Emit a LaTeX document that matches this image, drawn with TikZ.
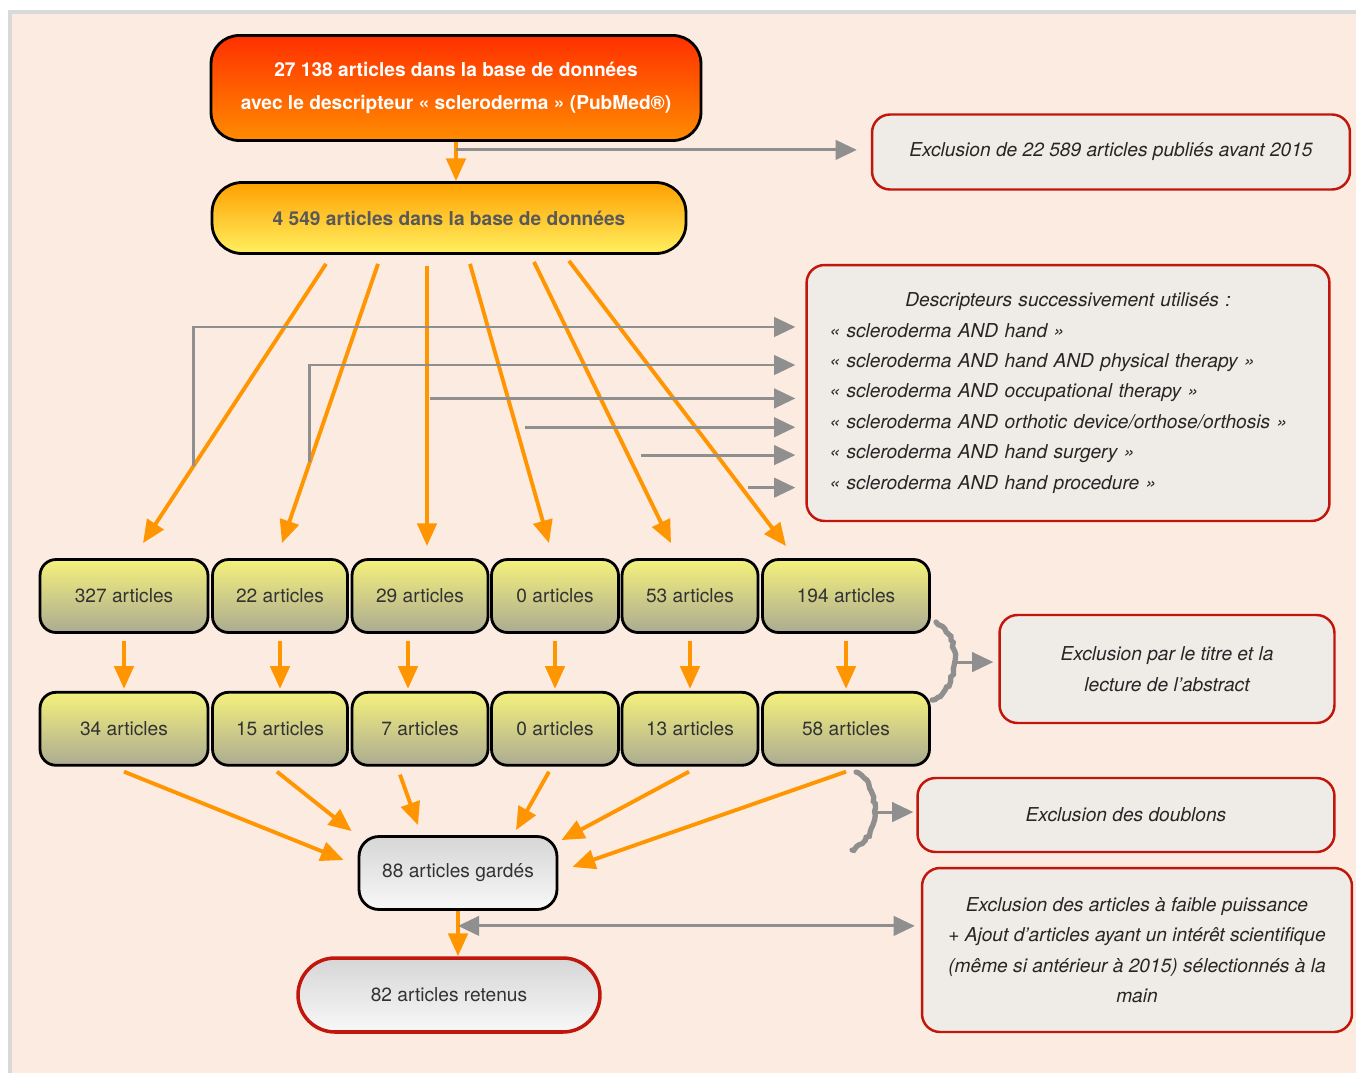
\documentclass[tikz,border=0pt]{standalone}
\usepackage{fontspec}
\setmainfont{TeX Gyre Heros}
\usetikzlibrary{arrows.meta,positioning,calc,decorations.pathmorphing}
\definecolor{fond}{HTML}{FCEBE0}
\definecolor{cadre}{HTML}{D9D9D9}
\definecolor{orangefl}{HTML}{FF9500}
\definecolor{grisfl}{HTML}{8F8F8F}
\definecolor{rouge}{HTML}{C0160C}
\definecolor{creme}{HTML}{EFEBE6}
\definecolor{rougeh}{HTML}{FF3000}
\definecolor{rougeb}{HTML}{FF8C00}
\definecolor{orangeh}{HTML}{FFA000}
\definecolor{jauneclair}{HTML}{FFF060}
\definecolor{jauneh}{HTML}{F4F17C}
\definecolor{jauneb}{HTML}{ACAB92}
\definecolor{grish}{HTML}{D6D6D6}
\definecolor{grisb}{HTML}{F8F8F8}

\begin{document}
\begin{tikzpicture}[
    x=0.02cm, y=-0.02cm,
    font=\fontsize{10.9}{17.3}\selectfont,
    base/.style={draw=black, line width=1.6pt, align=center, text=black!80, inner sep=0pt},
    boite/.style={base, rounded corners=0.32cm, top color=jauneh, bottom color=jauneb,
                  minimum height=1.46cm},
    excl/.style={draw=rouge, line width=1.4pt, fill=creme, rounded corners=0.36cm,
                 align=center, text=black!85, font=\fontsize{10.9}{17.3}\selectfont\itshape},
    fl/.style={-{Triangle[length=13pt, width=11pt]}, draw=orangefl, line width=2.2pt},
    flg/.style={-{Triangle[length=12pt, width=11pt]}, draw=grisfl, line width=1.7pt},
    brc/.style={draw=grisfl, line width=3pt, line cap=round,
                decorate, decoration={random steps, segment length=2pt, amplitude=0.7pt}}
  ]
  \useasboundingbox (0,0) rectangle (1356,1072);
  \fill[white] (0,0) rectangle (1356,1072);
  \begin{scope}
    \clip (0,0) rectangle (1356,1072);
    \draw[draw=cadre, line width=2.2pt, fill=fond] (10,12) rectangle (1400,1110);
  \end{scope}

  % base de donnees
  \node[base, rounded corners=0.56cm, top color=rougeh, bottom color=rougeb,
        minimum width=9.8cm, minimum height=2.1cm, text=white,
        font=\fontsize{10.9}{18.7}\selectfont\bfseries] (n1) at (456,88)
        {27 138 articles dans la base de données\\avec le descripteur « scleroderma » (PubMed\textregistered)};
  \node[base, rounded corners=0.6cm, top color=orangeh, bottom color=jauneclair,
        minimum width=9.48cm, minimum height=1.42cm, text=black!65,
        font=\fontsize{10.9}{17.3}\selectfont\bfseries] (n2) at (449,218)
        {4 549 articles dans la base de données};

  % exclusions
  \node[excl, minimum width=9.56cm, minimum height=1.5cm] (ex1) at (1111,152)
        {Exclusion de 22 589 articles publiés avant 2015};
  \node[excl, minimum width=10.46cm, minimum height=5.12cm, text width=9.54cm,
        inner xsep=0.46cm, align=left] (desc) at (1068,393)
        {{\centering Descripteurs successivement utilisés :\par}
         « scleroderma AND hand »\\
         « scleroderma AND hand AND physical therapy »\\
         « scleroderma AND occupational therapy »\\
         « scleroderma AND orthotic device/orthose/orthosis »\\
         « scleroderma AND hand surgery »\\
         « scleroderma AND hand procedure »};
  \node[excl, minimum width=6.7cm, minimum height=2.16cm] (ex2) at (1167,669)
        {Exclusion par le titre et la\\lecture de l’abstract};
  \node[excl, minimum width=8.34cm, minimum height=1.48cm] (ex3) at (1126,815)
        {Exclusion des doublons};
  \node[excl, minimum width=8.6cm, minimum height=3.28cm] (ex4) at (1137,950)
        {Exclusion des articles à faible puissance\\+ Ajout d’articles ayant un intérêt scientifique\\(même si antérieur à 2015) sélectionnés à la\\main};

  % descripteurs
  \node[boite, minimum width=3.36cm] (r1) at (124,596) {327 articles};
  \node[boite, minimum width=2.7cm] (r2) at (280,596) {22 articles};
  \node[boite, minimum width=2.72cm] (r3) at (420,596) {29 articles};
  \node[boite, minimum width=2.54cm] (r4) at (555,596) {0 articles};
  \node[boite, minimum width=2.72cm] (r5) at (690,596) {53 articles};
  \node[boite, minimum width=3.34cm] (r6) at (846,596) {194 articles};

  % titre et abstract
  \node[boite, minimum width=3.36cm, below=1.14cm of r1] (q1) {34 articles};
  \node[boite, minimum width=2.7cm, below=1.14cm of r2] (q2) {15 articles};
  \node[boite, minimum width=2.72cm, below=1.14cm of r3] (q3) {7 articles};
  \node[boite, minimum width=2.54cm, below=1.14cm of r4] (q4) {0 articles};
  \node[boite, minimum width=2.72cm, below=1.14cm of r5] (q5) {13 articles};
  \node[boite, minimum width=3.34cm, below=1.14cm of r6] (q6) {58 articles};

  \node[base, rounded corners=0.4cm, top color=grish, bottom color=grisb,
        minimum width=3.96cm, minimum height=1.46cm] (gd) at (458,873) {88 articles gardés};
  \node[base, draw=rouge, line width=2pt, rounded corners=0.74cm, top color=grish, bottom color=grisb,
        minimum width=6.04cm, minimum height=1.48cm] (rt) at (449,995) {82 articles retenus};

  % fleches
  \draw[fl] (n1.south) -- (n1.south |- n2.north);
  \draw[flg, shorten >=0.28cm] ([yshift=-0.16cm]n1.south) -- ([yshift=-0.16cm]n1.south -| ex1.west);

  \draw[fl] ($(n2.south)+(-123,9)$) -- coordinate[pos=0.723] (g1) ($(r1.north)+(19,-15)$);
  \draw[fl] ($(n2.south)+(-71,9)$) -- coordinate[pos=0.709] (g2) ($(r2.north)+(2,-15)$);
  \draw[fl] ($(n2.south)+(-22,11)$) -- coordinate[pos=0.473] (g3) ($(r3.north)+(7,-12)$);
  \draw[fl] ($(n2.south)+(21,9)$) -- coordinate[pos=0.585] (g4) ($(r4.north)+(-6,-15)$);
  \draw[fl] ($(n2.south)+(85,7)$) -- coordinate[pos=0.687] (g5) ($(r5.north)+(-19,-15)$);
  \draw[fl] ($(n2.south)+(120,6)$) -- coordinate[pos=0.795] (g6) ($(r6.north)+(-60,-12)$);

  \draw[flg, shorten >=0.2cm] (g1) |- ($(desc.west)+(0,-66)$);
  \draw[flg, shorten >=0.2cm] (g2) |- ($(desc.west)+(0,-28)$);
  \draw[flg, shorten >=0.2cm] ([xshift=0.06cm]g3) -- (g3 -| desc.west);
  \draw[flg, shorten >=0.2cm] ([xshift=0.18cm]g4) -- (g4 -| desc.west);
  \draw[flg, shorten >=0.2cm] ([xshift=0.26cm]g5) -- (g5 -| desc.west);
  \draw[flg, shorten >=0.2cm] ([xshift=0.13cm]g6) -- (g6 -| desc.west);

  \draw[fl, shorten <=0.14cm, shorten >=0.04cm] (r1.south) -- (q1.north);
  \draw[fl, shorten <=0.14cm, shorten >=0.04cm] (r2.south) -- (q2.north);
  \draw[fl, shorten <=0.14cm, shorten >=0.04cm] ([xshift=-0.24cm]r3.south) -- ([xshift=-0.24cm]q3.north);
  \draw[fl, shorten <=0.14cm, shorten >=0.04cm] (r4.south) -- (q4.north);
  \draw[fl, shorten <=0.14cm, shorten >=0.04cm] (r5.south) -- (q5.north);
  \draw[fl, shorten <=0.14cm, shorten >=0.04cm] (r6.south) -- (q6.north);

  \draw[brc] (936,622) to[bend left=65] coordinate[midway] (br1) (932,700);
  \draw[flg, shorten >=0.1cm] (br1) -- (br1 -| ex2.west);

  \draw[fl] ($(q1.south)+(0,5)$) -- ($(gd.west)+(-14,-13)$);
  \draw[fl] ($(q2.south)+(-3,5)$) -- ($(gd.north west)+(-6,-4)$);
  \draw[fl] ($(q3.south)+(-20,8)$) -- ($(gd.north)+(-40,-10)$);
  \draw[fl] ($(q4.south)+(-6,5)$) -- ($(gd.north)+(58,-5)$);
  \draw[fl] ($(q5.south)+(-1,5)$) -- ($(gd.north east)+(3,5)$);
  \draw[fl] ($(q6.south)+(0,5)$) -- ($(gd.east)+(14,-6)$);

  \draw[brc] (856,772) to[bend left=65] coordinate[midway] (br2) (852,850);
  \draw[flg, shorten >=0.06cm] (br2) -- (br2 -| ex3.west);

  \draw[fl] (gd.south) -- (gd.south |- rt.north);
  \coordinate (dbl) at ($(gd.south)+(0,15)$);
  \draw[flg, {Triangle[length=12pt, width=11pt]}-{Triangle[length=12pt, width=11pt]}, shorten >=0.12cm]
        (dbl) -- (dbl -| ex4.west);
\end{tikzpicture}
\end{document}
